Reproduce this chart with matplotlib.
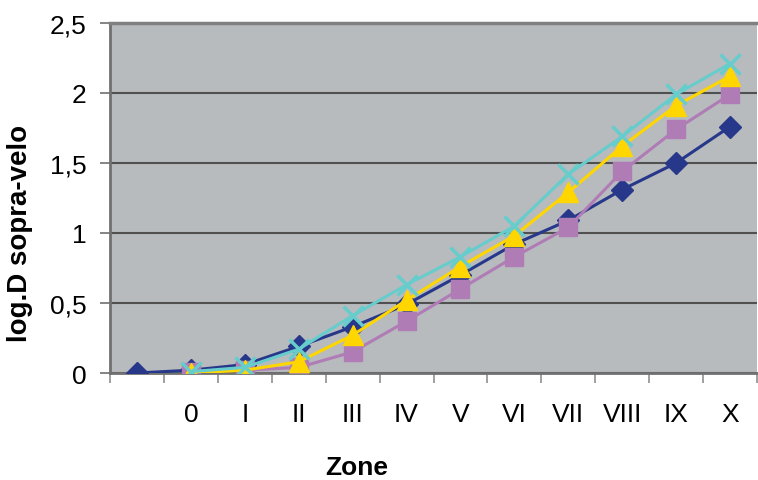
import numpy as np
import matplotlib
matplotlib.use('Agg')
import matplotlib.pyplot as plt

plt.rcParams['font.family'] = ['Liberation Sans', 'DejaVu Sans']

# categorie (la prima senza etichetta)
zone = ['', '0', 'I', 'II', 'III', 'IV', 'V', 'VI', 'VII', 'VIII', 'IX', 'X']

# valori
serie_blu = [0.0, 0.02, 0.06, 0.19, 0.33, 0.49, 0.70, 0.92, 1.09, 1.31, 1.50, 1.76]
serie_viola = [np.nan, 0.01, 0.02, 0.04, 0.15, 0.37, 0.60, 0.83, 1.04, 1.44, 1.74, 1.99]
serie_gialla = [np.nan, 0.0, 0.02, 0.08, 0.27, 0.52, 0.76, 0.98, 1.29, 1.62, 1.91, 2.12]
serie_ciano = [np.nan, 0.01, 0.04, 0.17, 0.41, 0.63, 0.83, 1.05, 1.42, 1.69, 1.99, 2.21]

x = np.arange(len(zone))

fig = plt.figure(figsize=(7.58, 4.81), dpi=100)
ax = fig.add_axes([110 / 758, 1 - 374 / 481, 647 / 758, 350 / 481])
ax.set_facecolor('#B7BBBE')

ax.plot(x, serie_blu, color='#27388A', lw=2.2, marker='D', ms=11, zorder=3)
ax.plot(x, serie_viola, color='#B07CB5', lw=2.2, marker='s', ms=13, zorder=3)
ax.plot(x, serie_gialla, color='#FFD600', lw=2.2, marker='^', ms=14, zorder=3)
ax.plot(x, serie_ciano, color='#66CCCC', lw=2.2, marker='x', ms=14, mew=2.5, zorder=3)

ax.set_xlim(-0.5, len(zone) - 0.5)
ax.set_ylim(0, 2.5)

ax.set_yticks([0, 0.5, 1, 1.5, 2, 2.5])
ax.set_yticklabels(['0', '0,5', '1', '1,5', '2', '2,5'])
ax.yaxis.grid(True, color='#505050', lw=1.5, zorder=1)
ax.set_axisbelow(True)

ax.set_xticks(x)
ax.set_xticklabels(zone)
ax.set_xticks(np.arange(-0.5, len(zone), 1), minor=True)
ax.tick_params(axis='x', which='major', length=0, pad=21, labelsize=19)
ax.tick_params(axis='x', which='minor', length=7, color='#909090', width=1.2)
ax.tick_params(axis='y', length=7, color='#707070', width=1.2, pad=10, labelsize=19)

for lato in ['left', 'bottom']:
    ax.spines[lato].set_color('#707070')
    ax.spines[lato].set_linewidth(2)
ax.spines['top'].set_color('#808080')
ax.spines['top'].set_linewidth(2.5)
ax.spines['right'].set_visible(False)

fig.text(20 / 758, 1 - 233 / 481, 'log.D sopra-velo', rotation=90, ha='center', va='center',
         fontsize=20, fontweight='bold')
fig.text(357 / 758, 0.002, 'Zone', ha='center', va='bottom', fontsize=19, fontweight='bold')

fig.savefig('out.png', dpi=100)
